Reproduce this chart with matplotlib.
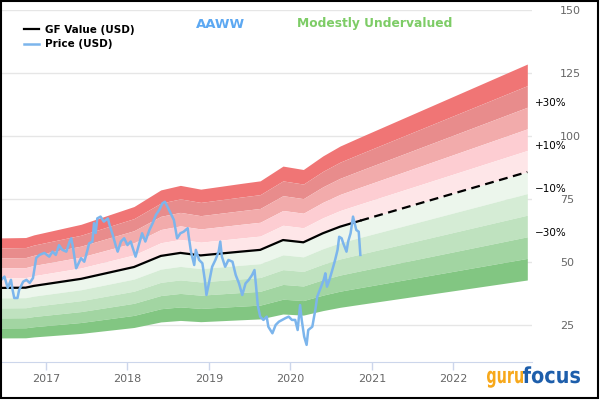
import matplotlib.pyplot as plt
from matplotlib.font_manager import FontProperties
from matplotlib.textpath import TextPath
from matplotlib.patches import PathPatch, Rectangle
from matplotlib.transforms import Affine2D, blended_transform_factory

# GF Value (decimal year, USD); last point is the projection (dashed)
gf_years = [2016.45, 2016.75, 2016.85, 2017.43, 2018.08, 2018.41, 2018.65, 2018.90, 2019.39,
            2019.63, 2019.91, 2020.16, 2020.40, 2020.61, 2020.86, 2022.91]
gf_values = [39.7, 39.8, 40.5, 43.3, 48.0, 52.4, 53.6, 52.6, 54.1,
             54.8, 58.7, 57.8, 61.4, 64.0, 66.4, 85.7]
n_actual = 15

price_years = [2016.45, 2016.49, 2016.53, 2016.57, 2016.59, 2016.61, 2016.65, 2016.67, 2016.72,
               2016.76, 2016.80, 2016.84, 2016.86, 2016.88, 2016.92, 2016.98, 2017.04, 2017.08,
               2017.12, 2017.16, 2017.20, 2017.25, 2017.29, 2017.31, 2017.33, 2017.37, 2017.39,
               2017.43, 2017.47, 2017.51, 2017.53, 2017.57, 2017.59, 2017.61, 2017.63, 2017.67,
               2017.71, 2017.76, 2017.78, 2017.82, 2017.86, 2017.88, 2017.92, 2017.96, 2018.00,
               2018.04, 2018.08, 2018.10, 2018.14, 2018.18, 2018.22, 2018.27, 2018.31, 2018.35,
               2018.39, 2018.43, 2018.46, 2018.49, 2018.53, 2018.57, 2018.61, 2018.65, 2018.69,
               2018.74, 2018.75, 2018.78, 2018.82, 2018.84, 2018.88, 2018.92, 2018.95, 2018.97,
               2019.00, 2019.04, 2019.08, 2019.12, 2019.14, 2019.16, 2019.20, 2019.24, 2019.29,
               2019.33, 2019.37, 2019.41, 2019.45, 2019.49, 2019.53, 2019.56, 2019.58, 2019.60,
               2019.63, 2019.67, 2019.71, 2019.73, 2019.78, 2019.82, 2019.86, 2019.90, 2019.94,
               2019.98, 2020.02, 2020.06, 2020.09, 2020.12, 2020.14, 2020.17, 2020.20, 2020.22,
               2020.27, 2020.31, 2020.33, 2020.37, 2020.41, 2020.43, 2020.45, 2020.48, 2020.51,
               2020.55, 2020.58, 2020.60, 2020.63, 2020.65, 2020.69, 2020.71, 2020.74, 2020.77,
               2020.78, 2020.81, 2020.84, 2020.86]
price_values = [42.9, 44.2, 39.7, 42.9, 38.9, 35.7, 35.7, 38.9, 42.2,
                42.9, 41.7, 43.6, 47.6, 51.6, 52.8, 53.6, 52.1, 54.1,
                52.8, 56.7, 54.8, 54.1, 58.1, 59.4, 56.1, 47.5, 48.8,
                51.5, 50.1, 54.8, 57.4, 58.1, 65.4, 61.5, 67.3, 68.0,
                66.0, 67.3, 64.7, 60.7, 56.1, 54.1, 58.1, 59.4, 56.7,
                58.1, 54.1, 52.1, 56.7, 61.4, 58.1, 62.7, 65.4, 68.7,
                70.6, 73.3, 73.9, 72.0, 69.3, 66.7, 59.4, 61.4, 62.0,
                63.4, 60.7, 54.1, 48.8, 54.8, 50.8, 49.5, 42.9, 36.9,
                41.5, 48.1, 50.8, 54.1, 58.1, 52.1, 48.1, 50.8, 50.1,
                44.8, 41.5, 36.9, 41.5, 42.9, 44.8, 46.8, 40.2, 32.9,
                28.3, 27.0, 28.3, 24.3, 21.7, 25.0, 26.3, 27.0, 27.7,
                28.3, 27.0, 27.0, 23.0, 32.9, 27.0, 20.4, 17.1, 23.0,
                24.3, 31.6, 36.2, 39.6, 42.9, 45.5, 40.2, 42.9, 46.2,
                50.8, 54.8, 60.0, 59.4, 57.4, 54.1, 58.1, 61.4, 68.0,
                66.7, 62.7, 62.0, 52.8]

band_edges = [1.5, 1.4, 1.3, 1.2, 1.1, 1.0, 0.9, 0.8, 0.7, 0.6, 0.5]
band_colors = ['#f07575', '#e88c8c', '#f2abab', '#fdcdd2', '#fee6e8',
               '#ecf6ec', '#d5ecd5', '#bfe2bf', '#a2d5a2', '#82c682']
pct_labels = ['+30%', '+10%', '\u221210%', '\u221230%']
pct_levels = [1.3, 1.1, 0.9, 0.7]
year_ticks = [2017, 2018, 2019, 2020, 2021, 2022]
y_ticks = [25, 50, 75, 100, 125, 150]

fig = plt.figure(figsize=(6, 4.2), dpi=100)
ax = fig.add_axes([0.002, 1 - 362 / 420, 531 / 600, 352 / 420])

for i, c in enumerate(band_colors):
    hi = [v * band_edges[i] for v in gf_values]
    lo = [v * band_edges[i + 1] for v in gf_values]
    ax.fill_between(gf_years, lo, hi, color=c, lw=0, zorder=1)

ax.plot(gf_years[:n_actual], gf_values[:n_actual], color='black', lw=1.6, zorder=3,
        label='GF Value (USD)')
ax.plot(gf_years[n_actual - 1:], gf_values[n_actual - 1:], color='black', lw=1.6,
        dashes=(4, 2.5), zorder=3)
ax.plot(price_years, price_values, color='#7cb5ec', lw=1.8, zorder=4, label='Price (USD)')

ax.set_xlim(2016.45, 2022.97)
ax.set_ylim(10.3, 150)
ax.set_xticks(year_ticks)
ax.set_xticklabels([str(y) for y in year_ticks])
ax.set_yticks(y_ticks)
ax.yaxis.tick_right()
ax.tick_params(axis='y', length=0, pad=20, labelsize=8, labelcolor='#666666')
ax.tick_params(axis='x', length=6, width=1, color='#ccd6eb', pad=3, labelsize=8,
               labelcolor='#666666')
ax.grid(axis='y', color='#e6e6e6', lw=1)
ax.set_axisbelow(True)
for s in ['top', 'right', 'left']:
    ax.spines[s].set_visible(False)
ax.spines['bottom'].set_color('#ccd6eb')

trans = blended_transform_factory(ax.transAxes, ax.transData)
for lab, lev in zip(pct_labels, pct_levels):
    ax.annotate(lab, xy=(1.0, gf_values[-1] * lev), xycoords=trans, xytext=(2, 3),
                textcoords='offset points', va='center', ha='left', fontsize=7.5,
                color='black', annotation_clip=False)

leg = ax.legend(loc='upper left', bbox_to_anchor=(0.025, 0.985), frameon=False,
                handlelength=1.5, handletextpad=0.5, labelspacing=0.45,
                prop={'weight': 'bold', 'size': 7.5})

fig.text(221 / 600, 1 - 24 / 420, 'AAWW', color='#5ca8f2', fontsize=9.5,
         fontweight='bold', ha='center', va='center')
fig.text(375 / 600, 1 - 24 / 420, 'Modestly Undervalued', color='#7dcc66', fontsize=8.8,
         fontweight='bold', ha='center', va='center')

# gurufocus logo, squeezed text paths placed in pixels
fp = FontProperties(family='DejaVu Sans', weight='bold')
x0 = 487
for word, width, col in [('guru', 36, '#f7a81b'), ('focus', 57, '#1d5eab')]:
    tp = TextPath((0, 0), word, size=1, prop=fp)
    ext = tp.get_extents()
    sx = width / ext.width
    tr = Affine2D().translate(-ext.x0, 0).scale(sx, 22).translate(x0, 420 - 383)
    fig.add_artist(PathPatch(tr.transform_path(tp), color=col, lw=0, transform=None))
    x0 += width

fig.add_artist(Rectangle((0.001, 1 - 398 / 420), 0.996, 397 / 420, transform=fig.transFigure,
                         fill=False, edgecolor='black', lw=1.5))

fig.savefig('out.png', dpi=100)
